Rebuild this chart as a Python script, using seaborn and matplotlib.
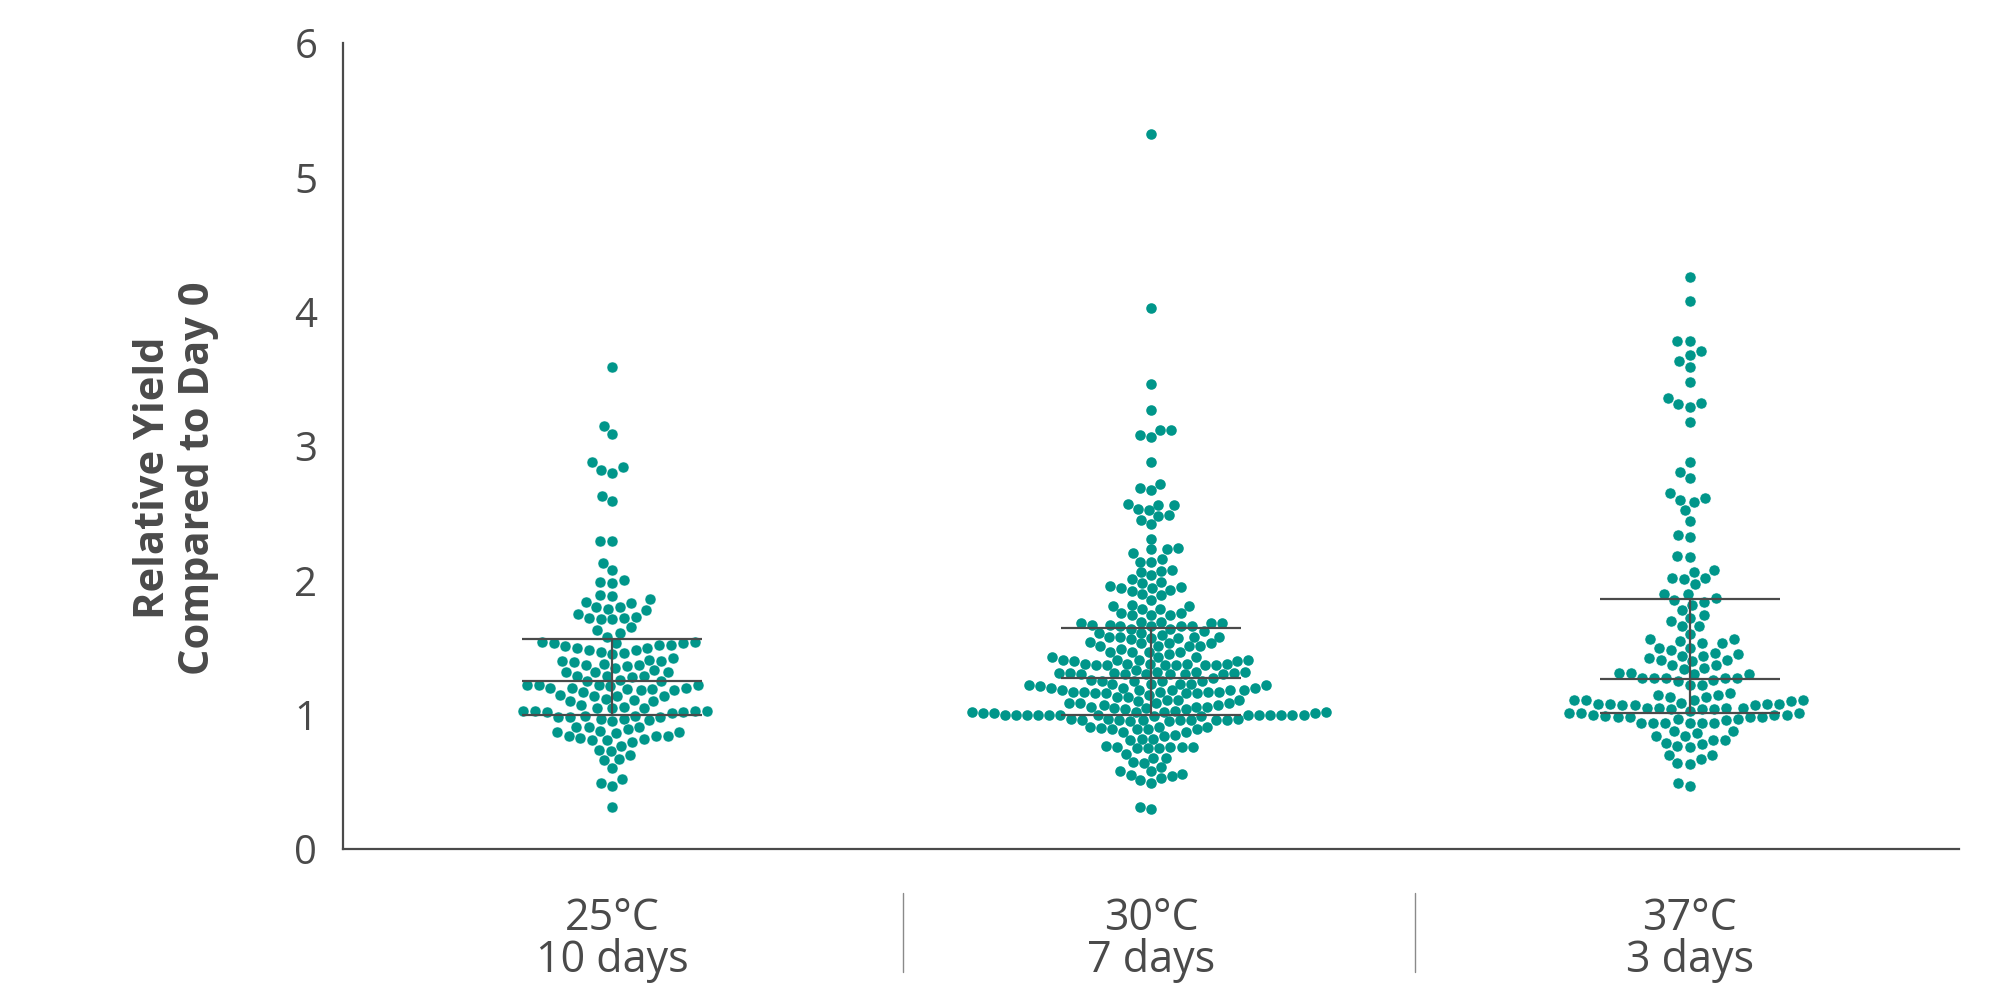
import pandas as pd
import seaborn as sns
import matplotlib.pyplot as plt

# relative yield values
yield_25 = [3.59, 3.15, 3.09, 2.88, 2.82, 2.80, 2.84, 2.59, 2.63, 2.29, 2.29, 2.13, 2.08, 1.99, 1.98,
            2.00, 1.89, 1.88, 1.86, 1.83, 1.84, 1.80, 1.79, 1.78, 1.80, 1.71, 1.72, 1.71, 1.75, 1.72,
            1.73, 1.65, 1.63, 1.61, 1.58, 1.53, 1.52, 1.53, 1.54, 1.52, 1.50, 1.54, 1.50, 1.51, 1.53,
            1.48, 1.48, 1.46, 1.45, 1.47, 1.40, 1.39, 1.42, 1.41, 1.40, 1.35, 1.38, 1.37, 1.36, 1.37,
            1.32, 1.33, 1.32, 1.32, 1.29, 1.29, 1.29, 1.28, 1.26, 1.25, 1.25, 1.22, 1.20, 1.22, 1.21,
            1.22, 1.22, 1.19, 1.18, 1.18, 1.19, 1.20, 1.20, 1.17, 1.14, 1.14, 1.14, 1.15, 1.12, 1.10,
            1.11, 1.10, 1.07, 1.06, 1.05, 1.02, 1.03, 1.03, 1.05, 1.03, 1.05, 1.03, 1.02, 1.01, 0.98,
            0.99, 0.98, 0.98, 0.97, 0.99, 0.97, 0.95, 0.96, 0.91, 0.91, 0.91, 0.88, 0.89, 0.87, 0.86,
            0.87, 0.84, 0.84, 0.84, 0.80, 0.81, 0.82, 0.83, 0.81, 0.77, 0.73, 0.74, 0.70, 0.67, 0.66,
            0.60, 0.49, 0.47, 0.52, 0.31]

yield_30 = [5.32, 4.03, 3.46, 3.27, 3.12, 3.07, 3.08, 3.12, 2.88, 2.67, 2.69, 2.72, 2.53, 2.52, 2.57,
            2.56, 2.56, 2.49, 2.45, 2.42, 2.48, 2.31, 2.23, 2.24, 2.20, 2.23, 2.16, 2.14, 2.14, 2.06,
            2.04, 2.07, 2.08, 1.99, 1.96, 1.93, 1.98, 2.01, 1.95, 1.94, 1.89, 1.92, 1.85, 1.90, 1.94,
            1.81, 1.81, 1.82, 1.79, 1.79, 1.74, 1.76, 1.74, 1.76, 1.74, 1.69, 1.66,
            1.41, 1.20, 1.00,
            1.41, 1.30, 1.20, 1.07, 1.00,
            1.38, 1.31, 1.23, 1.18, 1.13, 1.09, 1.04, 0.97,
            1.64, 1.40, 1.31, 1.25, 1.17, 1.06, 0.96,
            1.66, 1.58, 1.49, 1.43, 1.37, 1.31, 1.25, 1.17, 1.00, 0.91,
            1.68, 1.57, 1.51, 1.37, 1.30, 1.18, 1.00, 0.87, 0.76,
            1.62, 1.54, 1.47, 1.38, 1.32, 1.23, 1.16, 1.09, 1.02, 0.89, 0.82, 0.76, 0.64, 0.58,
            1.68, 1.58, 1.51, 1.43, 1.37, 1.27, 1.17, 1.10, 1.01, 0.89, 0.82, 0.76, 0.65, 0.54,
            1.66, 1.58, 1.51, 1.45, 1.37, 1.23, 1.17, 1.11, 1.05, 0.99, 0.91, 0.85, 0.76, 0.68,
            0.58, 0.51,
            1.68, 1.56, 0.97, 0.71, 0.53,
            1.69, 1.61, 1.53, 1.47, 1.41, 1.32, 1.25, 1.16, 1.09, 1.00, 0.91, 0.84, 0.75, 0.68,
            0.61, 0.55, 0.49,
            1.66, 1.58, 1.51, 1.43, 1.37, 1.30, 1.23, 1.16, 1.05, 0.96, 0.90, 0.77, 0.56,
            1.64, 1.57, 1.38, 1.32, 1.25, 1.17, 1.11, 1.04, 0.96, 0.89, 0.75,
            1.67, 1.59, 1.53, 1.47, 1.38, 1.30, 1.22, 1.16, 1.07, 1.01, 0.87, 0.81, 0.75,
            1.67, 1.61, 1.53, 1.47, 1.37, 1.30, 1.21, 1.13, 1.06, 1.01, 0.89,
            1.38, 1.31, 1.22, 1.15, 1.09, 1.02, 0.96,
            1.40, 1.33, 1.26, 1.18, 1.11, 1.06, 1.00,
            1.41, 1.30, 1.18, 1.00,
            1.18, 1.00, 1.20, 1.00,
            1.00, 0.96, 1.03, 0.95, 0.99, 1.02, 0.96, 0.97,
            1.00, 1.00, 0.95, 1.02, 0.96, 1.00,
            0.30, 0.31]

yield_37 = [4.26, 4.08, 3.78, 3.78, 3.71, 3.68, 3.63, 3.59, 3.48, 3.36, 3.29, 3.32, 3.31, 3.18, 2.88,
            2.81, 2.76, 2.65, 2.60, 2.58, 2.61, 2.52, 2.44, 2.32, 2.34, 2.18, 2.17, 2.02, 2.06, 2.08,
            2.01, 2.02, 1.97, 1.87, 1.85, 1.90, 1.90, 1.84, 1.82, 1.78, 1.72, 1.74, 1.70, 1.66, 1.66,
            1.60, 1.56, 1.56, 1.53, 1.53, 1.55, 1.48, 1.50, 1.50, 1.46, 1.45, 1.41, 1.44, 1.44, 1.41,
            1.40, 1.42, 1.37, 1.37, 1.35, 1.34, 1.31, 1.30, 1.30, 1.31, 1.27, 1.27, 1.25, 1.26, 1.27,
            1.27, 1.27, 1.22, 1.22, 1.15, 1.16, 1.15, 1.13, 1.11, 1.13, 1.11, 1.11, 1.08, 1.09, 1.08,
            1.10, 1.08, 1.11, 1.07, 1.05, 1.08, 1.07, 1.07, 1.04, 1.03, 1.04, 1.05, 1.05, 1.01, 1.01,
            1.05, 1.04, 1.01, 1.00, 0.97, 0.96, 1.00, 0.94, 0.94, 0.98, 0.99, 0.98, 0.98, 0.97, 0.94,
            0.98, 0.94, 1.00, 0.94, 0.94, 0.86, 0.88, 0.88, 0.84, 0.84, 0.79, 0.81, 0.81, 0.77, 0.76,
            0.78, 0.70, 0.70, 0.64, 0.67, 0.63, 0.47, 0.49]

conditions = ["25°C\n10 days", "30°C\n7 days", "37°C\n3 days"]

# median and interquartile lines as drawn in the reference
q_low = [1.00, 0.995, 1.013]
q_mid = [1.25, 1.276, 1.263]
q_high = [1.56, 1.643, 1.861]

# little dividers under the axis between the groups
divider_x = [0.54, 1.49]

teal = "#00968a"
dark = "#4a4a4a"

df = pd.DataFrame({
    "condition": [conditions[0]] * len(yield_25) + [conditions[1]] * len(yield_30)
                 + [conditions[2]] * len(yield_37),
    "value": yield_25 + yield_30 + yield_37,
})

sns.set_style("white")
plt.rcParams["font.family"] = ["Open Sans", "DejaVu Sans"]

fig, ax = plt.subplots(figsize=(20, 10), dpi=100)
fig.subplots_adjust(left=0.1715, right=0.9795, bottom=0.151, top=0.957)

# the outer groups are spread a bit looser in the reference -> white rim adds spacing
swarm_style = {conditions[0]: (7.9, 0.3), conditions[1]: (7.6, 0.0), conditions[2]: (8.0, 0.4)}
for cond in conditions:
    sz, rim = swarm_style[cond]
    sns.swarmplot(data=df[df["condition"] == cond], x="condition", y="value", order=conditions,
                  color=teal, size=sz, linewidth=rim, edgecolor="white", ax=ax)

half = 0.167
for i, (lo, mid, hi) in enumerate(zip(q_low, q_mid, q_high)):
    ax.hlines([lo, mid, hi], i - half, i + half, color=dark, lw=1.6, zorder=5)
    ax.vlines(i, lo, hi, color=dark, lw=1.6, zorder=5)

ax.set_xlim(-0.5, 2.5)
ax.set_ylim(0, 6)
ax.set_yticks(range(7))
ax.set_xlabel("")
ax.set_ylabel("")

sns.despine(ax=ax)
for side in ["left", "bottom"]:
    ax.spines[side].set_color(dark)
    ax.spines[side].set_linewidth(1.6)

ax.tick_params(axis="y", length=14.5, width=1.2, pad=4, labelsize=29, colors=dark)
ax.tick_params(axis="x", length=15, width=1.0, pad=19, labelsize=31, colors=dark)
for lab in ax.get_xticklabels():
    lab.set_linespacing(0.92)

for xd in divider_x:
    ax.plot([xd, xd], [-0.055, -0.153], transform=ax.get_xaxis_transform(),
            color="#8a8a8a", lw=1.0, clip_on=False)

fig.text(0.088, 0.522, "Relative Yield\nCompared to Day 0", rotation=90,
         ha="center", va="center", fontsize=30, fontweight="bold", color=dark,
         linespacing=1.15)

fig.savefig("out.png", dpi=100)
